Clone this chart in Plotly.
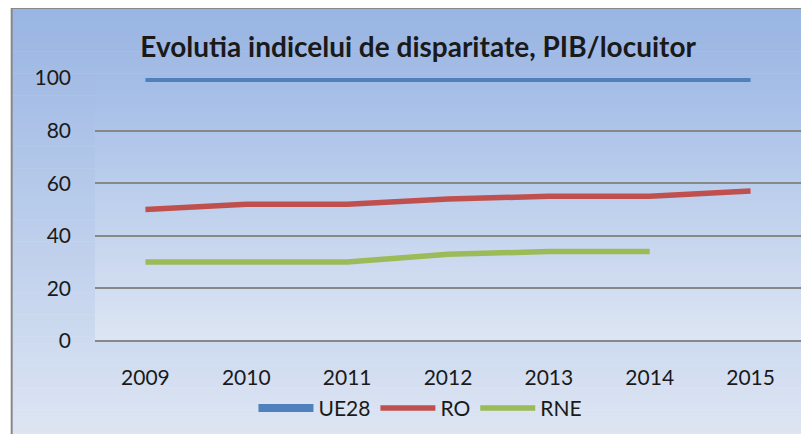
import plotly.graph_objects as go

years = ["2009", "2010", "2011", "2012", "2013", "2014", "2015"]
ue28 = [100, 100, 100, 100, 100, 100, 100]
ro = [50, 52, 52, 54, 55, 55, 57]
rne = [30, 30, 30, 33, 34, 34, None]

colours = {"UE28": "#4f81bd", "RO": "#c0504d", "RNE": "#9bbb59"}


def mix(c1, c2, t):
    return "rgb(%d,%d,%d)" % tuple(round(a + (b - a) * t) for a, b in zip(c1, c2))


fig = go.Figure()
for name, vals, w in [("UE28", ue28, 8), ("RO", ro, 5.5), ("RNE", rne, 5.5)]:
    fig.add_trace(go.Scatter(x=years, y=vals, name=name, mode="lines",
                             line=dict(color=colours[name], width=w),
                             connectgaps=False))

# gradient backgrounds built from thin bands
shapes = []
top_c, bot_c = (153, 181, 227), (222, 230, 243)
n = 60
y_top, y_bot = 1.266, -0.40
for i in range(n):
    y0 = y_top - (y_top - y_bot) * i / n
    y1 = y_top - (y_top - y_bot) * (i + 1) / n
    shapes.append(dict(type="rect", xref="paper", yref="paper", layer="below",
                       x0=-0.118, x1=1.05, y0=y1, y1=y0 + 0.002,
                       line_width=0, fillcolor=mix(top_c, bot_c, i / (n - 1))))
ptop, pbot = (163, 189, 231), (220, 229, 243)
for i in range(n):
    y0 = 1 - i / n
    y1 = 1 - (i + 1) / n
    shapes.append(dict(type="rect", xref="paper", yref="paper", layer="below",
                       x0=0, x1=1, y0=y1, y1=y0 + 0.002,
                       line_width=0, fillcolor=mix(ptop, pbot, i / (n - 1))))
# outer border
shapes.append(dict(type="rect", xref="paper", yref="paper", layer="below",
                   x0=-0.118, x1=1.2, y0=-0.6, y1=1.266,
                   line=dict(color="#888888", width=2), fillcolor="rgba(0,0,0,0)"))

fig.update_layout(
    width=801, height=426,
    margin=dict(l=87, r=8, t=70, b=93, autoexpand=False),
    paper_bgcolor="white",
    plot_bgcolor="rgba(0,0,0,0)",
    shapes=shapes,
    font=dict(family="Lato, Calibri, sans-serif", size=21, color="#1a1a1a"),
    title=dict(text="<b>Evolu\u200ctia indicelui de disparitate, PIB/locuitor</b>",
               x=0.512, xanchor="center", y=0.908, yanchor="middle",
               font=dict(size=28, family="Lato, Calibri, sans-serif")),
    xaxis=dict(type="category", range=[-0.5, 6.5], showgrid=False, showline=False,
               ticks="", ticklabelstandoff=22, automargin=False),
    yaxis=dict(range=[0, 100], tickvals=[0, 20, 40, 60, 80, 100],
               showgrid=True, gridcolor="#888888", gridwidth=2,
               zeroline=True, zerolinecolor="#888888", zerolinewidth=2,
               showline=False, ticks="", ticklabelstandoff=23, automargin=False),
    legend=dict(orientation="h", x=0.461, xanchor="center", y=-0.178, yanchor="top",
                bgcolor="rgba(0,0,0,0)", font=dict(size=21), itemwidth=55),
    showlegend=True,
)

fig.write_html("out.html")
